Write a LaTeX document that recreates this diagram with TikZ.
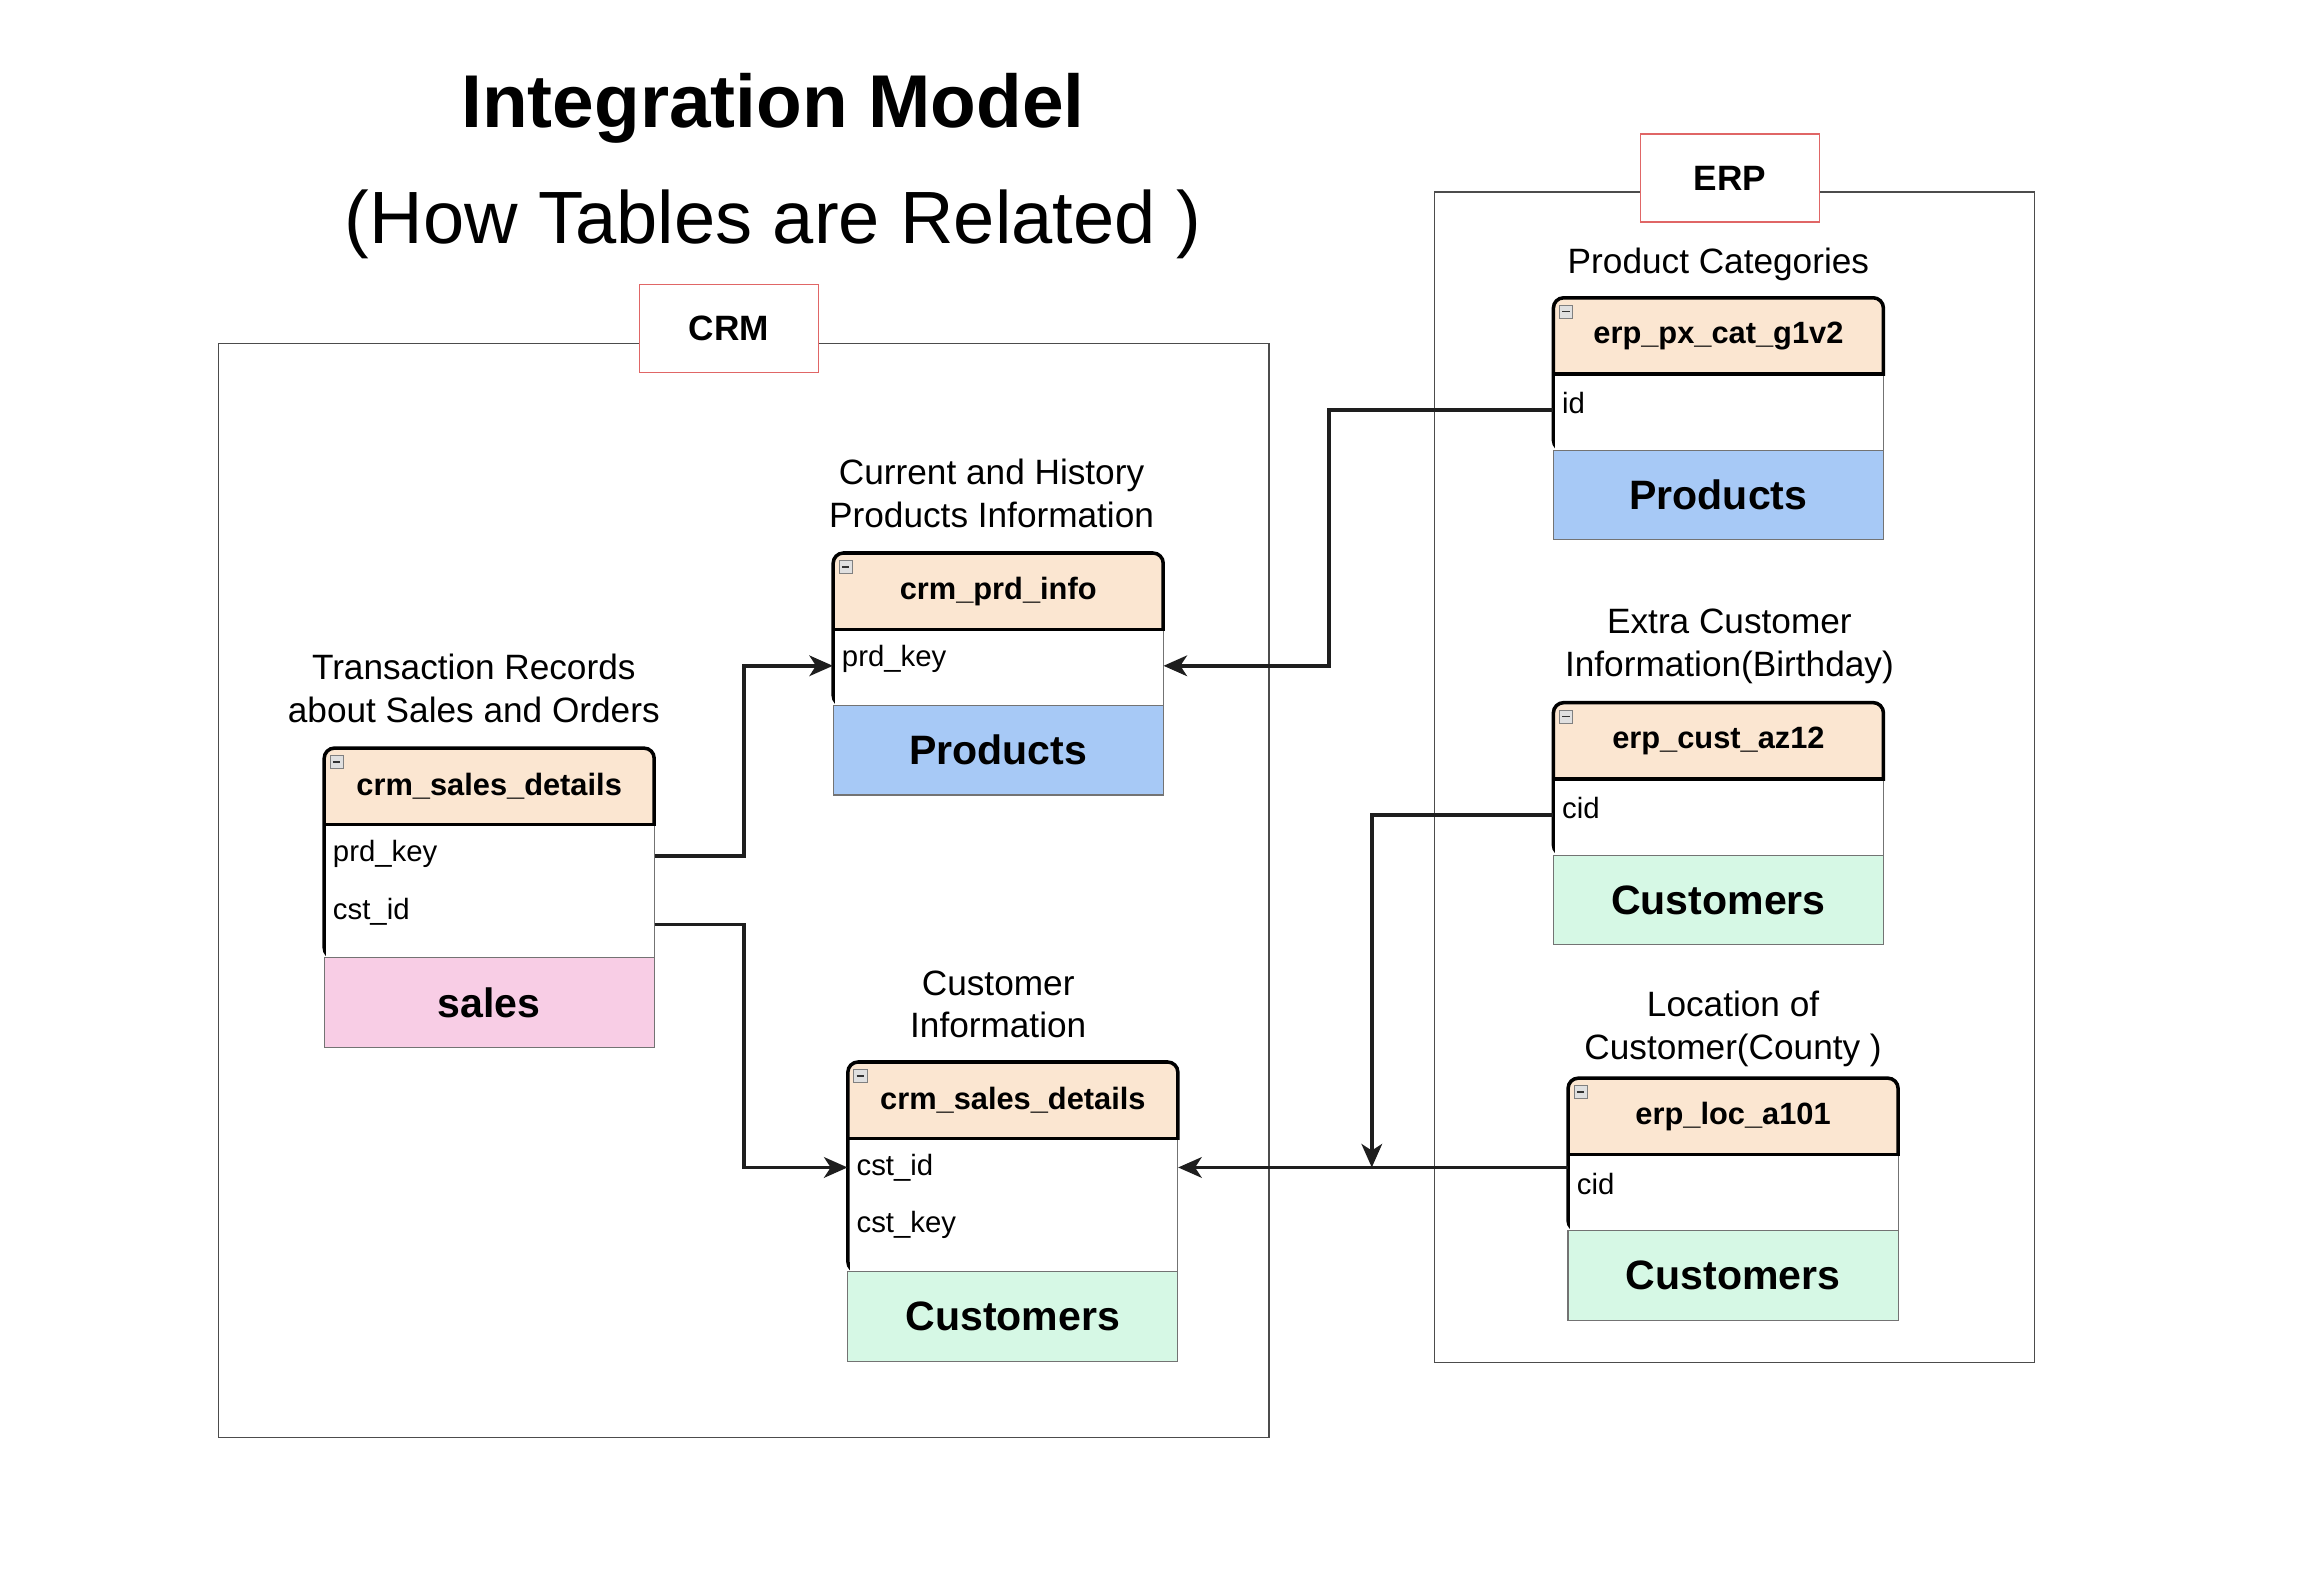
\documentclass[tikz,border=0pt]{standalone}
\usepackage{fontspec}
\setmainfont{Liberation Sans}
\usepackage{tikz}
\usetikzlibrary{positioning}
\usetikzlibrary{arrows.meta}
\definecolor{peach}{HTML}{FBE6D1}
\definecolor{salespink}{HTML}{F8CDE5}
\definecolor{prodblue}{HTML}{A7C9F6}
\definecolor{custmint}{HTML}{D6F8E5}
\definecolor{tagred}{HTML}{E06666}
\definecolor{linkgray}{HTML}{1E1E1E}
\tikzset {
  % table title bar
  hdr/.style = {minimum width=225pt, minimum height=52pt, inner sep=0pt, font=\fontsize{21}{25}\selectfont\bfseries},
  % one column row of a table
  field/.style = {text width=213pt, inner xsep=6pt, inner ysep=0pt, minimum height=39pt, font=\fontsize{20}{24}\selectfont},
  % coloured band under a table
  foot/.style = {draw=black!55, line width=0.8pt, minimum width=225pt, minimum height=61pt, inner sep=0pt, font=\fontsize{28}{32}\selectfont\bfseries},
  tblline/.style = {line width=2.4pt, black},
  % CRM / ERP groups
  grp/.style = {draw=black!70, line width=1pt},
  tag/.style = {draw=tagred, fill=white, line width=1pt, minimum width=122pt, minimum height=60pt, font=\fontsize{24}{28}\selectfont\bfseries},
  lbl/.style = {align=center, inner sep=0pt, font=\fontsize{24}{29}\selectfont},
  link/.style = {draw=linkgray, line width=2.6pt, -{Stealth[length=16pt, width=14pt, inset=4.5pt]}},
}
% #1 name, #2 left, #3 top, #4 body height, #5 title, #6 band text, #7 band colour
\newcommand{\dbtable}[7]{%
  \fill[white, rounded corners=7pt] (#2,#3) rectangle (#2+225,#3+52+#4);
  \fill[peach, rounded corners=7pt] (#2,#3) rectangle (#2+225,#3+52);
  \fill[peach] (#2,#3+20) rectangle (#2+225,#3+52);
  \draw[tblline, rounded corners=7pt] (#2,#3) rectangle (#2+225,#3+52+#4);
  \draw[tblline] (#2,#3+52) -- (#2+225,#3+52);
  \fill[white] (#2+1.2,#3+53.2) rectangle (#2+226.5,#3+52+#4);
  \draw[black!55, line width=0.8pt] (#2+225,#3+53.2) -- (#2+225,#3+52+#4);
  \node[hdr] (#1) at (#2+112.5,#3+26) {#5};
  \node[foot, fill=#7] (#1-f) at (#2+112.5,#3+82.5+#4) {#6};
  \draw[black!50, fill=black!12, line width=0.5pt] (#2+4,#3+5) rectangle (#2+13,#3+14);
  \draw[black!80, line width=1pt] (#2+6,#3+9.5) -- (#2+11,#3+9.5);
}

\begin{document}
\begin{tikzpicture}[x=1pt, y=-1pt]
  \useasboundingbox (0,0) rectangle (1568,1073);

  \node[anchor=base, font=\fontsize{51}{61}\selectfont\bfseries] (title) at (527,87) {Integration Model};
  \node[anchor=base, font=\fontsize{50.5}{60}\selectfont] (sub) at (527,166) {(How Tables are Related )};

  \draw[grp] (149,234) rectangle (865,980);
  \node[tag] (crm) at (497,224) {CRM};
  \draw[grp] (978,131) rectangle (1387,929);
  \node[tag] (erp) at (1179.5,121.5) {ERP};

  % CRM side
  \dbtable{sd}{221}{510}{91}{crm\_sales\_details}{sales}{salespink}
  \node[field, below=0pt of sd.south west, anchor=north west] (sd1) {prd\_key};
  \node[field, below=0pt of sd1] (sd2) {cst\_id};
  \node[lbl, above=17pt of sd, xshift=-10.5pt] (sdl) {Transaction Records\\about Sales and Orders};

  \dbtable{pi}{568}{377}{52}{crm\_prd\_info}{Products}{prodblue}
  \node[field, below=0pt of pi.south west, anchor=north west] (pi1) {prd\_key};
  \node[lbl, above=17pt of pi, xshift=-4.5pt] (pil) {Current and History\\Products Information};

  \dbtable{cs}{578}{724}{91}{crm\_sales\_details}{Customers}{custmint}
  \node[field, below=0pt of cs.south west, anchor=north west] (cs1) {cst\_id};
  \node[field, below=0pt of cs1] (cs2) {cst\_key};
  \node[lbl, above=16pt of cs, xshift=-10pt] (csl) {Customer\\Information};

  % ERP side
  \dbtable{pc}{1059}{203}{52}{erp\_px\_cat\_g1v2}{Products}{prodblue}
  \node[field, below=0pt of pc.south west, anchor=north west] (pc1) {id};
  \node[lbl, above=11.5pt of pc] (pcl) {Product Categories};

  \dbtable{ca}{1059}{479}{52}{erp\_cust\_az12}{Customers}{custmint}
  \node[field, below=0pt of ca.south west, anchor=north west] (ca1) {cid};
  \node[lbl, above=12.5pt of ca, xshift=7.5pt] (cal) {Extra Customer\\Information(Birthday)};

  \dbtable{lc}{1069}{735}{52}{erp\_loc\_a101}{Customers}{custmint}
  \node[field, below=0pt of lc.south west, anchor=north west] (lc1) {cid};
  \node[lbl, above=7.5pt of lc] (lcl) {Location of\\Customer(County )};

  % relations
  \draw[link] ([yshift=-1.5pt]sd1.east) -- ++(61,0) |- ([yshift=-5pt]pi1.west);
  \draw[link] ([yshift=-9pt]sd2.east) -- ++(61,0) |- (cs1.west);
  \draw[link] ([yshift=-4.5pt]pc1.west) -- ++(-153,0) |- ([yshift=-5pt]pi1.east);
  \path (cs1.east) ++(132,0) coordinate (jn);
  \draw[link] (lc1.west |- jn) -- (cs1.east);
  \draw[link] ([yshift=-4.5pt]ca1.west) -| (jn);
\end{tikzpicture}
\end{document}
